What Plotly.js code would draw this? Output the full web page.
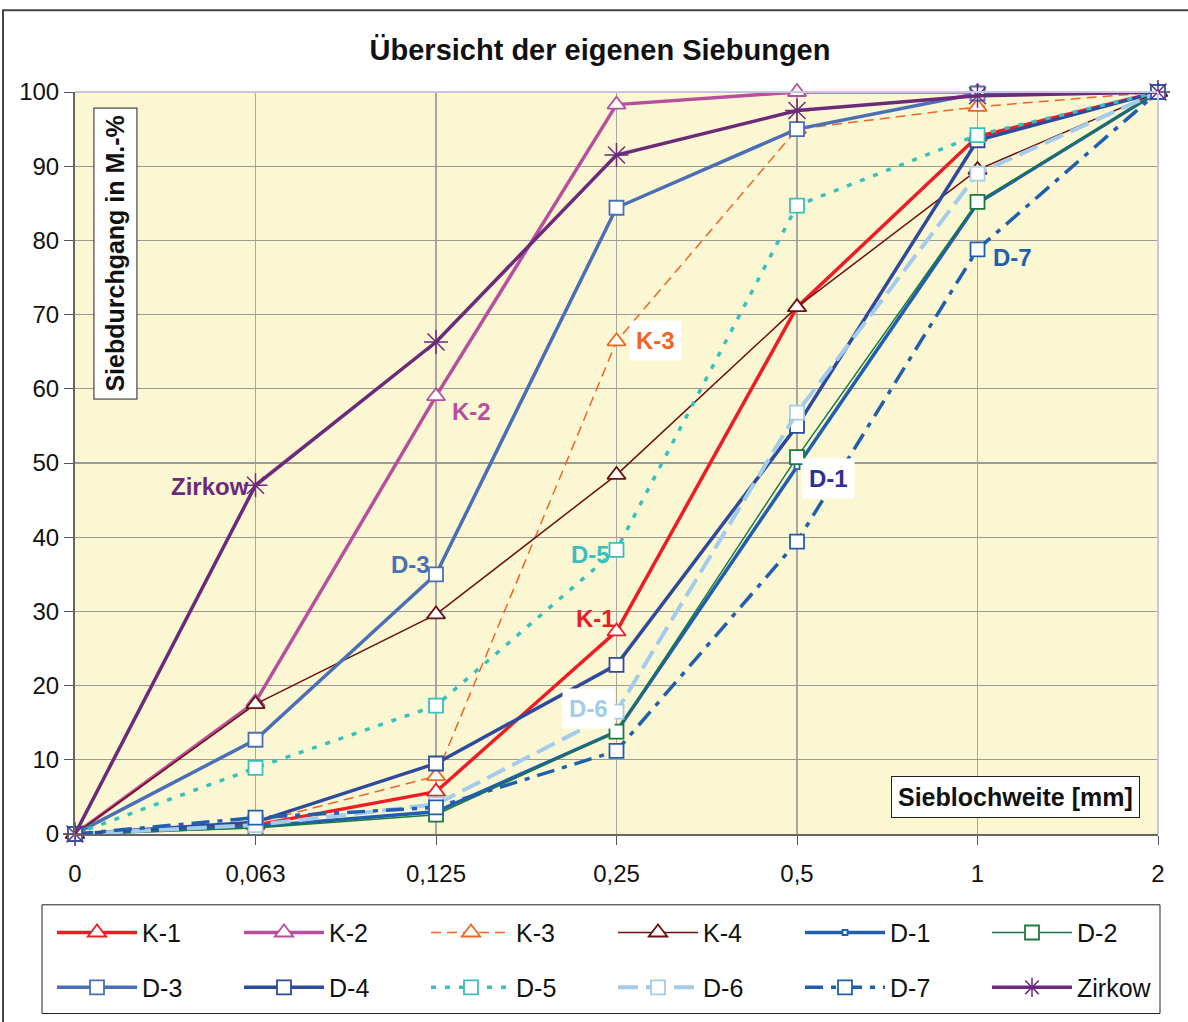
<!DOCTYPE html>
<html><head><meta charset="utf-8">
<script src="https://cdn.plot.ly/plotly-3.0.1.min.js"></script>
<style>body{margin:0;background:#fff}#c{width:1188px;height:1022px}</style>
</head><body><div id="c"></div>
<script>
const sieve = ["0","0,063","0,125","0,25","0,5","1","2"];
const K1 = [0, 1.2, 5.7, 27.3, 71.0, 94.0, 100];
const K2 = [0, 17.8, 59.0, 98.3, 100, 100, 100];
const K3 = [0, 1.5, 7.8, 66.4, 95.0, 98.0, 100];
const K4 = [0, 17.5, 29.6, 48.4, 71.0, 89.5, 100];
const D1 = [0, 1.0, 3.0, 13.8, 49.5, 85.0, 100];
const D2 = [0, 0.8, 2.6, 13.8, 50.8, 85.2, 100];
const D3 = [0, 12.7, 35.0, 84.4, 95.0, 99.8, 100];
const D4 = [0, 1.6, 9.5, 22.8, 55.0, 93.5, 100];
const D5 = [0, 8.9, 17.3, 38.3, 84.7, 94.2, 100];
const D6 = [0, 1.2, 4.0, 16.5, 56.8, 89.0, 100];
const D7 = [0, 2.2, 3.6, 11.2, 39.4, 78.8, 100];
const Zirkow = [0, 47.0, 66.3, 91.5, 97.5, 99.5, 100];
const names = ["K-1","K-2","K-3","K-4","D-1","D-2","D-3","D-4","D-5","D-6","D-7","Zirkow"];
const series = [K1,K2,K3,K4,D1,D2,D3,D4,D5,D6,D7,Zirkow];

const styles = [
  {c:"#ee1c25", w:3.5, d:"solid", s:"triangle-up", ms:16},
  {c:"#b84f9e", w:3.5, d:"solid", s:"triangle-up", ms:16},
  {c:"#f26522", w:1.5, d:"10px,6px", s:"triangle-up", ms:16},
  {c:"#6d0f0f", w:1.5, d:"solid", s:"triangle-up", ms:16},
  {c:"#1f5fad", w:3.5, d:"solid", s:"square", ms:5},
  {c:"#1a7a3e", w:1.5, d:"solid", s:"square", ms:14},
  {c:"#4a6fb5", w:3.5, d:"solid", s:"square", ms:14},
  {c:"#2e4a9a", w:3.5, d:"solid", s:"square", ms:14},
  {c:"#38bfbf", w:3.5, d:"5px,9px", s:"square", ms:14},
  {c:"#a3cbec", w:4, d:"20px,8px", s:"square", ms:14},
  {c:"#1f5fad", w:3.5, d:"18px,8px,5px,8px", s:"square", ms:14},
  {c:"#6b2a7a", w:3.5, d:"solid", s:"asterisk-open", ms:20}
];

const traces = series.map((v,i)=>{
  const st = styles[i];
  const isAst = st.s === "asterisk-open";
  return {
    type:"scatter", mode:"lines+markers", name:names[i],
    legend: i < 6 ? "legend" : "legend2",
    x:sieve, y:v,
    line:{color:st.c, width:st.w, dash:st.d},
    marker:{symbol:st.s, size:st.ms, color: isAst ? st.c : "#ffffff",
            line:{color:st.c, width: isAst ? 1.5 : 1.8}},
    cliponaxis:false
  };
});

const L=75, R=1158, T=92, B=836;
const pw=R-L, ph=B-T;
const px = x => (x-L)/pw;
const py = y => (B-y)/ph;
const FF = "Liberation Sans, Arial, sans-serif";

function lab(text, xpx, ypx, color, bg){
  return {text:"<b>"+text+"</b>", xref:"paper", yref:"paper", x:px(xpx), y:py(ypx),
    xanchor:"center", yanchor:"middle", showarrow:false,
    font:{family:FF, size:24, color:color},
    bgcolor: bg ? "#ffffff" : "rgba(0,0,0,0)", borderpad:6};
}

const annotations = [
  lab("Zirkow", 210, 488, "#6b2a7a", false),
  lab("K-2", 471, 412, "#b84f9e", false),
  lab("D-3", 410, 566, "#4a6fb5", false),
  lab("K-3", 655, 341, "#f26522", true),
  lab("D-5", 590, 556, "#38bfbf", false),
  lab("K-1", 595, 620, "#ee1c25", false),
  lab("D-6", 588, 710, "#a3cbec", true),
  lab("D-1", 828, 480, "#2e3192", true),
  lab("D-7", 1012, 258, "#1f5fad", false),
  {text:"<b>Siebdurchgang in M.-%</b>", xref:"paper", yref:"paper", x:px(115), y:py(254),
   xanchor:"center", yanchor:"middle", textangle:-90, showarrow:false,
   font:{family:FF, size:25, color:"#111"},
   bgcolor:"#ffffff", bordercolor:"#222", borderwidth:1, borderpad:7},
  {text:"<b>Sieblochweite [mm]</b>", xref:"paper", yref:"paper", x:px(1015), y:py(799),
   xanchor:"center", yanchor:"middle", showarrow:false,
   font:{family:FF, size:25, color:"#111"},
   bgcolor:"#ffffff", bordercolor:"#222", borderwidth:1, borderpad:6}
];

const legCommon = {orientation:"h", xanchor:"left", yanchor:"middle",
  borderwidth:0, bgcolor:"rgba(0,0,0,0)",
  entrywidth:92, entrywidthmode:"pixels", itemwidth:80,
  font:{family:FF, size:25, color:"#111"}, traceorder:"normal"};

const layout = {
  width:1188, height:1022,
  margin:{l:L, r:1188-R, t:T, b:1022-B},
  paper_bgcolor:"#ffffff", plot_bgcolor:"#fcf7d3",
  font:{family:FF, size:20, color:"#111"},
  title:{text:"<b>Übersicht der eigenen Siebungen</b>", x:600/1188, xanchor:"center",
         y:1-50/1022, yanchor:"middle", font:{family:FF, size:29, color:"#111"}},
  xaxis:{type:"category", range:[0,6], showgrid:true, gridcolor:"#a8a8a0", gridwidth:1.2,
         ticks:"outside", ticklen:9, tickcolor:"#555", showline:true, linecolor:"#666", linewidth:2,
         tickfont:{size:24}, ticklabelstandoff:8, zeroline:false, fixedrange:true},
  yaxis:{range:[0,100], dtick:10, showgrid:true, gridcolor:"#9a9a96", gridwidth:1.2,
         ticks:"outside", ticklen:9, tickcolor:"#555", showline:true, linecolor:"#666", linewidth:2,
         tickfont:{size:24}, zeroline:false, fixedrange:true},
  showlegend:true,
  legend: Object.assign({x:px(52), y:py(935)}, legCommon),
  legend2: Object.assign({x:px(52), y:py(990)}, legCommon),
  annotations:annotations,
  shapes:[
    {type:"rect", xref:"paper", yref:"paper", x0:px(3), x1:px(1192), y0:py(1030), y1:py(10),
     line:{color:"#444", width:2}, fillcolor:"rgba(0,0,0,0)", layer:"below"},
    {type:"rect", xref:"paper", yref:"paper", x0:px(42), x1:px(1160), y0:py(1016), y1:py(907),
     line:{color:"#222", width:1}, fillcolor:"rgba(0,0,0,0)", layer:"below"},
    {type:"line", xref:"paper", yref:"paper", x0:0, x1:1, y0:1, y1:1, line:{color:"#c8c4e4", width:2}},
    {type:"line", xref:"paper", yref:"paper", x0:1, x1:1, y0:0, y1:1, line:{color:"#c8c4e4", width:2}}
  ]
};

Plotly.newPlot("c", traces, layout, {displayModeBar:false, staticPlot:true});
</script></body></html>
